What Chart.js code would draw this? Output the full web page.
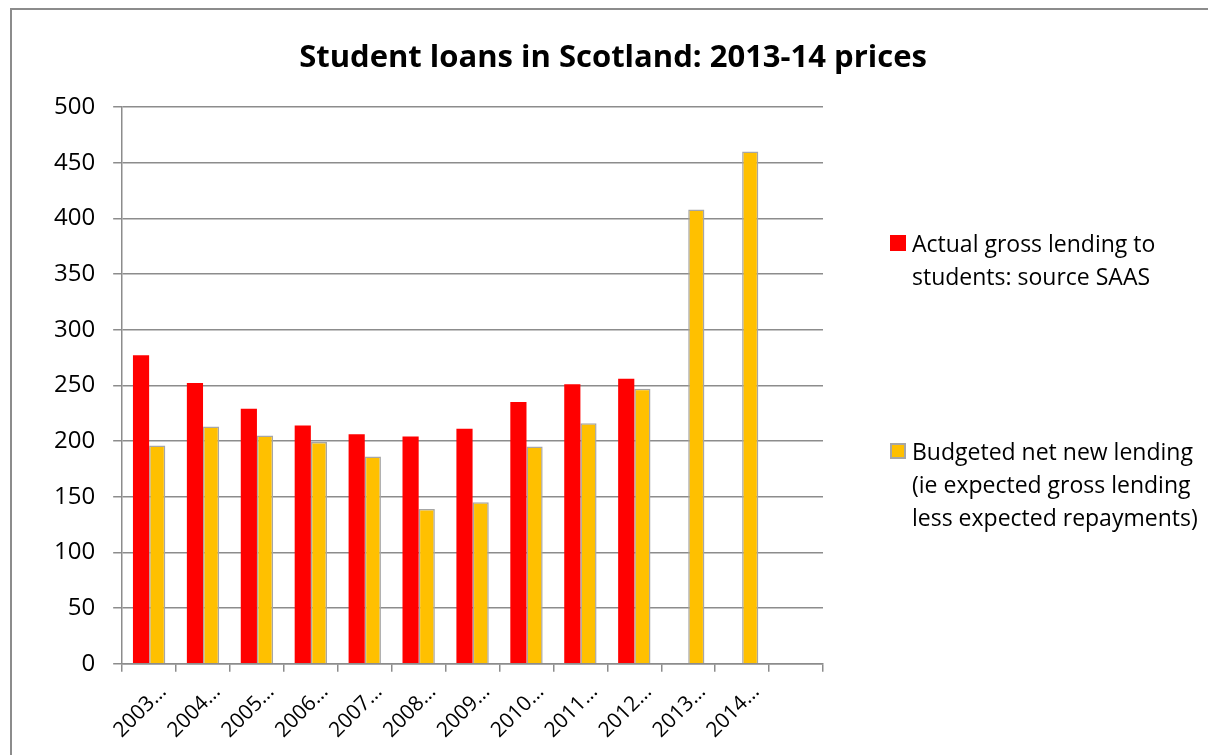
<!DOCTYPE html>
<html>
<head>
<meta charset="utf-8">
<script src="https://cdn.jsdelivr.net/npm/chart.js@4"></script>
<style>
  body { margin: 0; background: #fff; font-family: "Open Sans", sans-serif; }
  #wrap { position: relative; width: 1208px; height: 755px; overflow: hidden; }
  #frame { position: absolute; left: 10px; top: 8px; width: 1300px; height: 900px; border: 2px solid #8c8c8c; }
  #title { position: absolute; left: 0; top: 34px; width: 1226px; text-align: center; font-weight: bold; font-size: 31px; color: #000; }
  .leg { position: absolute; left: 890px; font-size: 23px; line-height: 33px; color: #000; }
  .leg .box { position: absolute; left: 0; top: 8px; width: 16px; height: 16px; box-sizing: border-box; }
  .leg .txt { margin-left: 22px; white-space: nowrap; }
  canvas { position: absolute; left: 0; top: 0; }
</style>
</head>
<body>
<div id="wrap">
  <div id="frame"></div>
  <canvas id="chart" width="1208" height="755"></canvas>
  <div id="title">Student loans in Scotland: 2013-14 prices</div>
  <div id="legend"></div>
</div>
<script>
// Data (£m, 2013-14 prices)
const categories = ['2003…', '2004…', '2005…', '2006…', '2007…', '2008…', '2009…', '2010…', '2011…', '2012…', '2013…', '2014…', ''];
const actualGross = [277, 252, 229, 214, 206, 204, 211, 235, 251, 256, null, null, null];
const budgetedNet = [196, 213, 205, 199, 186, 139, 145, 195, 216, 247, 408, 460, null];
const seriesNames = [
  ['Actual gross lending to', 'students: source SAAS'],
  ['Budgeted net new lending', '(ie expected gross lending', 'less expected repayments)']
];
const yTicks = [0, 50, 100, 150, 200, 250, 300, 350, 400, 450, 500];

const canvasElem = document.getElementById('chart');

function renderChart() {
  const chartData = {
    labels: categories,
    datasets: [
      {
        label: seriesNames[0].join(' '),
        data: actualGross,
        backgroundColor: '#ff0000',
        borderColor: '#ff0000',
        borderWidth: 0,
        legendLines: seriesNames[0]
      },
      {
        label: seriesNames[1].join(' '),
        data: budgetedNet,
        backgroundColor: '#ffc000',
        borderColor: '#a6a6a6',
        borderWidth: 1.5,
        legendLines: seriesNames[1]
      }
    ]
  };

  const chartConfig = {
    type: 'bar',
    data: chartData,
    options: {
      responsive: false,
      animation: false,
      devicePixelRatio: 1,
      categoryPercentage: 0.6,
      barPercentage: 1,
      layout: { padding: { left: 36, right: 385, top: 107, bottom: 4 } },
      plugins: {
        legend: { display: false },
        title: { display: false },
        tooltip: { enabled: false }
      },
      scales: {
        x: {
          grid: { display: true, drawOnChartArea: false, drawTicks: true, tickLength: 8, color: '#8c8c8c', lineWidth: 1.5 },
          border: { display: true, color: '#8c8c8c', width: 1.5 },
          ticks: {
            color: '#000',
            font: { family: 'Open Sans', size: 21 },
            maxRotation: 45,
            minRotation: 45,
            autoSkip: false,
            labelOffset: 14,
            padding: 8
          }
        },
        y: {
          min: 0,
          max: 500,
          afterBuildTicks: axis => { axis.ticks = yTicks.map(v => ({ value: v })); },
          grid: { color: '#8c8c8c', lineWidth: 1.5, tickLength: 9 },
          border: { display: true, color: '#8c8c8c', width: 1.5 },
          ticks: {
            color: '#000',
            font: { family: 'Open Sans', size: 24 },
            padding: 18
          }
        }
      }
    }
  };

  const chart = new Chart(canvasElem, chartConfig);

  // HTML legend built from the datasets
  const legendTops = [227, 435];
  const legend = document.getElementById('legend');
  chart.data.datasets.forEach((ds, i) => {
    const item = document.createElement('div');
    item.className = 'leg';
    item.style.top = legendTops[i] + 'px';
    const box = document.createElement('div');
    box.className = 'box';
    box.style.background = ds.backgroundColor;
    box.style.border = ds.borderWidth ? '2px solid ' + ds.borderColor : 'none';
    const txt = document.createElement('div');
    txt.className = 'txt';
    txt.innerHTML = ds.legendLines.join('<br>');
    item.appendChild(box);
    item.appendChild(txt);
    legend.appendChild(item);
  });
}

renderChart();
</script>
</body>
</html>
